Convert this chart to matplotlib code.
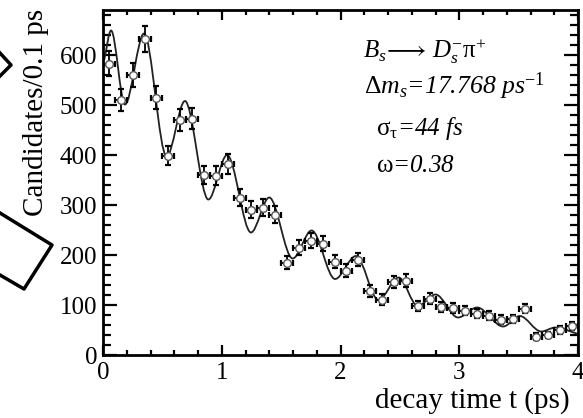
import numpy as np
import matplotlib
matplotlib.use("Agg")
import matplotlib.pyplot as plt
from matplotlib.path import Path
from matplotlib.patches import PathPatch
from matplotlib.ticker import MultipleLocator

plt.rcParams['font.family'] = ['Liberation Serif', 'DejaVu Serif']
plt.rcParams['mathtext.fontset'] = 'custom'
plt.rcParams['mathtext.rm'] = 'Liberation Serif'
plt.rcParams['mathtext.it'] = 'Liberation Serif:italic'
plt.rcParams['mathtext.bf'] = 'Liberation Serif:bold'

# ---- data ----
bin_centers = [0.05, 0.15, 0.25, 0.35, 0.45, 0.55, 0.65, 0.75, 0.85, 0.95,
               1.05, 1.15, 1.25, 1.35, 1.45, 1.55, 1.65, 1.75, 1.85, 1.95,
               2.05, 2.15, 2.25, 2.35, 2.45, 2.55, 2.65, 2.75, 2.85, 2.95,
               3.05, 3.15, 3.25, 3.35, 3.45, 3.55, 3.65, 3.75, 3.85, 3.95]
candidates = [583, 510, 560, 632, 515, 399, 470, 473, 360, 359,
              382, 315, 291, 295, 281, 185, 215, 229, 223, 187,
              169, 191, 128, 111, 146, 149, 98, 113, 96, 94,
              89, 83, 79, 71, 72, 93, 37, 40, 50, 58]
bin_half_width = 0.05

# fit curve: start, successive extrema, end
curve_t = [0.01, 0.068, 0.185, 0.345, 0.536, 0.69, 0.887, 1.045, 1.246, 1.40,
           1.597, 1.757, 1.954, 2.13, 2.32, 2.49, 2.65, 2.80, 2.99, 3.15,
           3.37, 3.51, 3.69, 3.81, 4.0]
curve_v = [590, 649, 501, 643, 397, 508, 311, 400, 245, 315,
           193, 249, 152, 198, 110, 155, 98, 121, 75, 95,
           57, 78, 47, 55, 42]

x_ticks = [0, 1, 2, 3, 4]
y_ticks = [0, 100, 200, 300, 400, 500, 600]

W, H = 583, 418
fig = plt.figure(figsize=(W / 100, H / 100), dpi=100)
ax = fig.add_axes([103 / W, 1 - 355 / H, (578 - 103) / W, (355 - 10) / H])

# fit curve as a smooth Bezier path through the extrema
verts = [(curve_t[0], curve_v[0])]
codes = [Path.MOVETO]
n = len(curve_t)
for i in range(n - 1):
    t0, v0 = curve_t[i], curve_v[i]
    t1, v1 = curve_t[i + 1], curve_v[i + 1]
    dt = t1 - t0
    s0 = (v1 - v0) / dt if i == 0 else 0.0
    s1 = (v1 - v0) / dt if i == n - 2 else 0.0
    verts += [(t0 + dt / 3, v0 + s0 * dt / 3), (t1 - dt / 3, v1 - s1 * dt / 3), (t1, v1)]
    codes += [Path.CURVE4, Path.CURVE4, Path.CURVE4]
ax.add_patch(PathPatch(Path(verts, codes), facecolor='none', edgecolor='#222222',
                       lw=1.3, zorder=2))

yerr = np.sqrt(np.array(candidates, dtype=float))
ax.errorbar(bin_centers, candidates, yerr=yerr, xerr=bin_half_width, fmt='none',
            ecolor='black', elinewidth=1.3, capsize=2.5, capthick=1.6, zorder=3)
ax.plot(bin_centers, candidates, 'o', ms=5.5, mfc='white', mec='#555555', mew=1.0, zorder=4)

ax.set_xlim(0, 4)
ax.set_ylim(0, 690)
ax.set_xticks(x_ticks)
ax.set_yticks(y_ticks)
ax.xaxis.set_minor_locator(MultipleLocator(0.2))
ax.yaxis.set_minor_locator(MultipleLocator(20))
ax.tick_params(which='both', direction='in', top=True, right=True, width=1.6,
               labelsize=18, colors='black')
ax.tick_params(axis='x', which='major', length=7, pad=5)
ax.tick_params(axis='x', which='minor', length=3.5)
ax.tick_params(axis='y', which='major', length=10, pad=4)
ax.tick_params(axis='y', which='minor', length=5.5)
for sp in ax.spines.values():
    sp.set_linewidth(2.0)

fig.text(570 / W, 1 - 401 / H, 'decay time t (ps)', ha='right', va='center', fontsize=21)
fig.text(36 / W, 1 - 112 / H, 'Candidates/0.1 ps', ha='center', va='center',
         rotation=90, fontsize=21)

def ftxt(x, y, s, size=18, **kw):
    fig.text(x / W, 1 - y / H, s, ha='left', va='baseline', fontsize=size,
             style='italic', **kw)

ftxt(363, 58, r'$\mathit{B_s}\!\longrightarrow\,\mathit{D}^{-}_{\mathit{s}}\mathrm{\pi}^{+}$')
ftxt(364, 94, r'$\mathrm{\Delta}\mathit{m}_{\mathit{s}}$=17.768 ps$^{\mathit{-1}}$', size=18.5)
ftxt(376, 135, r'$\mathrm{\sigma_{\tau}}$=44 fs')
ftxt(376, 172, r'$\mathrm{\omega}$=0.38')

# stray shapes from neighbouring page content
def fline(xs, ys):
    fig.add_artist(plt.Line2D([x / W for x in xs], [1 - y / H for y in ys],
                              color='black', lw=2.5, transform=fig.transFigure))

fline([0, 11, 0], [53, 65, 76])
fline([0, 52, 24, 0], [213, 245, 289, 275])

fig.savefig('out.png', dpi=100)
